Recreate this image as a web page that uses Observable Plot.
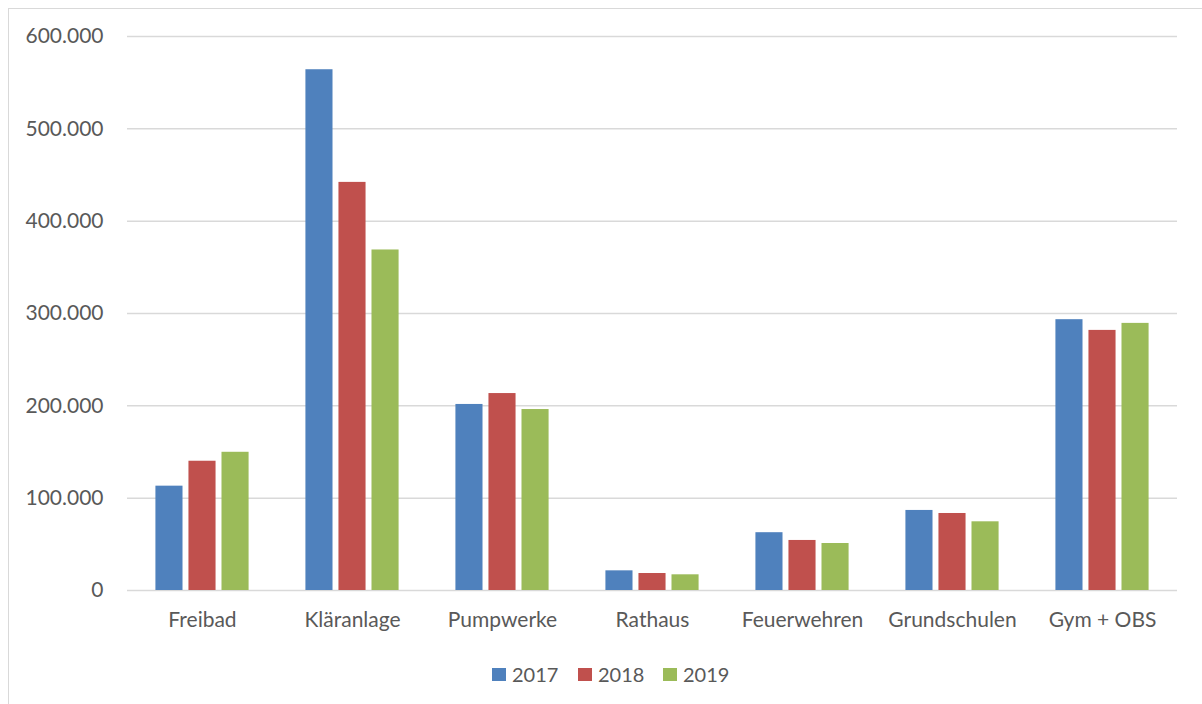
<!DOCTYPE html>
<html>
<head>
<meta charset="utf-8">
<script src="https://cdn.jsdelivr.net/npm/d3@7"></script>
<script src="https://cdn.jsdelivr.net/npm/@observablehq/plot@0.6"></script>
<style>
  html, body { margin: 0; padding: 0; background: #fff; }
  #wrap { position: relative; width: 1202px; height: 704px; overflow: hidden; font-family: Lato, "Open Sans", sans-serif; }
  #frame { position: absolute; left: 8px; top: 8px; width: 1200px; height: 700px; border-left: 1.5px solid #d9d9d9; border-top: 1.5px solid #d9d9d9; }
  #chart { position: absolute; left: 0; top: 0; }
  #legend { position: absolute; top: 662px; left: 0; width: 1202px; height: 24px; }
  .item { position: absolute; top: 0; height: 24px; display: flex; align-items: center; font-size: 20px; color: #595959; }
  .sw { width: 14px; height: 13px; margin-right: 6px; }
</style>
</head>
<body>
<div id="wrap">
  <div id="frame"></div>
  <div id="chart"></div>
  <div id="legend"></div>
</div>
<script>
const categories = ["Freibad", "Kläranlage", "Pumpwerke", "Rathaus", "Feuerwehren", "Grundschulen", "Gym + OBS"];
const years = ["2017", "2018", "2019"];
const v2017 = [113000, 564000, 201500, 21300, 62600, 86700, 293300];
const v2018 = [140000, 442000, 213300, 18400, 54200, 83400, 281700];
const v2019 = [149700, 368800, 196000, 17000, 50900, 74400, 289300];
const colors = ["#4f81bd", "#c0504d", "#9bbb59"];
const yTicks = [0, 100000, 200000, 300000, 400000, 500000, 600000];

const series = [v2017, v2018, v2019];
const data = [];
categories.forEach((c, i) => {
  years.forEach((y, j) => data.push({category: c, year: y, value: series[j][i]}));
});

const de = d3.formatLocale({decimal: ",", thousands: ".", grouping: [3], currency: ["", " €"]});
const fmt = de.format(",.0f");

const chart = Plot.plot({
  width: 1202,
  height: 650,
  marginLeft: 127,
  marginRight: 25,
  marginTop: 36,
  marginBottom: 60,
  style: {fontFamily: "Lato, 'Open Sans', sans-serif", fontSize: "21px", color: "#595959", background: "transparent"},
  fx: {domain: categories, padding: 0, round: false, label: null, axis: "bottom", tickSize: 0, tickPadding: 22},
  x: {domain: years, paddingInner: 0.18, paddingOuter: 0.86, round: false, axis: null},
  y: {domain: [0, 600000], ticks: yTicks, tickFormat: fmt, tickSize: 0, tickPadding: 24, label: null},
  color: {domain: years, range: colors},
  marks: [
    Plot.gridY(yTicks, {stroke: "#d9d9d9", strokeOpacity: 1, strokeWidth: 1.5}),
    Plot.barY(data, {fx: "category", x: "year", y: "value", fill: "year"}),
    Plot.axisY({ticks: yTicks, tickFormat: fmt, tickSize: 0, tickPadding: 24, label: null, fontSize: 21, fill: "#595959"})
  ]
});
document.getElementById("chart").appendChild(chart);

const legend = document.getElementById("legend");
const lx = [492, 578, 663];
years.forEach((y, j) => {
  const it = document.createElement("div");
  it.className = "item";
  it.style.left = lx[j] + "px";
  const sw = document.createElement("span");
  sw.className = "sw";
  sw.style.background = colors[j];
  it.appendChild(sw);
  it.appendChild(document.createTextNode(y));
  legend.appendChild(it);
});
</script>
</body>
</html>
